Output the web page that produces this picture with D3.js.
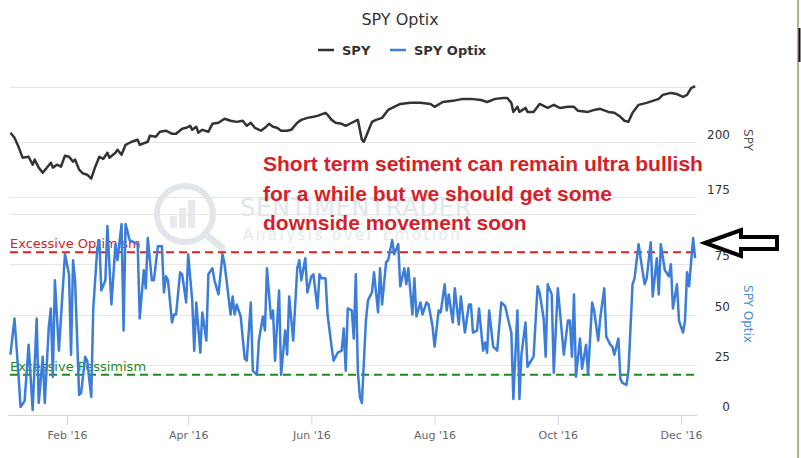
<!DOCTYPE html>
<html>
<head>
<meta charset="utf-8">
<script src="https://cdn.jsdelivr.net/npm/d3@7"></script>
<style>
  body { margin: 0; background: #fff; }
  svg { display: block; font-family: "DejaVu Sans", sans-serif; }
</style>
</head>
<body>
<div id="chart"></div>
<script>
var width = 801,
    height = 458;

// SPY close
var spyDates = ["01-04","01-06","01-08","01-10","01-13","01-15","01-16","01-18","01-20","01-24","01-25","01-27","01-29","01-31",
  "02-02","02-04","02-05","02-07","02-09","02-11","02-13","02-15","02-17","02-19","02-21","02-22","02-25","02-26","02-28",
  "03-01","03-04","03-07","03-08","03-12","03-13","03-16","03-18","03-21","03-24","03-26","03-29","03-31",
  "04-02","04-03","04-05","04-06","04-08","04-11","04-13","04-16","04-19","04-22","04-25","04-28","04-30",
  "05-02","05-04","05-07","05-09","05-11","05-13","05-15","05-17","05-20","05-22","05-25","05-27","05-30",
  "06-02","06-04","06-08","06-09","06-11","06-13","06-16","06-18","06-21","06-23","06-24","06-26","06-27","06-29",
  "07-01","07-03","07-06","07-09","07-12","07-15","07-20","07-25","07-30",
  "08-01","08-05","08-10","08-15","08-19","08-24","08-27","08-31",
  "09-04","09-06","09-08","09-09","09-11","09-12","09-15","09-16","09-19","09-22","09-26","09-29",
  "10-02","10-06","10-09","10-11","10-16","10-19","10-22","10-26","10-29",
  "11-01","11-03","11-05","11-07","11-10","11-14","11-17","11-20","11-22","11-26","11-29",
  "12-02","12-04","12-06","12-08"];
var spyValues = [204.1,201.8,197.7,192.8,193.2,189.6,191.9,188.3,186.0,190.5,188.3,189.6,188.7,193.7,
  193.2,191.0,191.9,187.4,185.6,185.1,183.3,188.7,193.2,192.3,195.0,192.8,195.0,196.4,194.1,
  198.6,200.0,200.9,198.6,200.0,202.7,202.3,204.5,205.0,203.6,203.6,205.9,206.3,
  207.2,205.4,206.8,204.1,205.4,204.5,208.1,208.6,210.4,209.5,209.0,209.5,207.2,
  208.6,206.3,205.0,206.3,208.1,206.8,206.3,205.0,205.0,205.4,208.6,209.9,210.8,
  211.3,211.7,213.1,212.2,209.9,208.6,208.1,207.2,208.6,209.5,209.9,200.9,200.0,204.5,
  209.0,209.9,210.8,214.4,215.8,217.1,217.6,217.6,217.1,
  215.8,218.0,218.5,219.4,219.4,218.9,218.0,219.4,
  219.8,219.8,217.6,213.5,215.8,213.5,215.3,213.5,213.5,217.1,215.3,216.7,
  215.3,215.8,215.8,214.0,213.5,214.4,214.9,213.5,213.1,
  211.3,209.5,209.0,213.1,216.7,217.6,218.5,219.4,221.2,222.1,221.6,
  220.3,221.2,224.3,225.2];

// SPY Optix
var optixDates = ["01-04","01-06","01-08","01-09","01-11","01-13","01-15","01-17","01-18","01-20","01-21","01-23","01-24","01-25","01-26","01-28","01-30","01-31",
  "02-02","02-03","02-04","02-05","02-07","02-08","02-10","02-11","02-13","02-14","02-16","02-17","02-18","02-20","02-21","02-23","02-25","02-26","02-28","02-29",
  "03-01","03-03","03-07","03-08","03-10","03-11","03-12","03-14","03-15","03-17","03-19","03-20","03-21","03-22","03-24","03-25","03-26","03-28","03-29","03-31",
  "04-01","04-03","04-04","04-05","04-07","04-08","04-10","04-11","04-13","04-14","04-16","04-18","04-19","04-20","04-22","04-23","04-24","04-25","04-27","04-29","04-30",
  "05-02","05-03","05-05","05-06","05-08","05-09","05-10","05-12","05-13","05-14","05-16","05-17","05-19","05-20","05-21","05-23","05-25","05-26","05-27","05-29","05-30",
  "06-01","06-02","06-04","06-05","06-06","06-08","06-09","06-11","06-12","06-14","06-16","06-17","06-18","06-19","06-21","06-22","06-23","06-24","06-25","06-26","06-28","06-29",
  "07-01","07-02","07-04","07-05","07-06","07-08","07-09","07-11","07-12","07-14","07-15","07-17","07-18","07-19","07-21","07-22","07-23","07-25","07-26","07-28","07-29","07-31",
  "08-01","08-03","08-04","08-06","08-07","08-08","08-10","08-11","08-13","08-14","08-16","08-18","08-19","08-20","08-22","08-23","08-25","08-26","08-27","08-28","08-30",
  "09-01","09-03","09-05","09-07","09-08","09-09","09-11","09-12","09-13","09-15","09-16","09-19","09-21","09-22","09-24","09-25","09-26","09-28","09-29",
  "10-01","10-04","10-06","10-07","10-08","10-09","10-10","10-12","10-13","10-15","10-16","10-18","10-19","10-21","10-22","10-24","10-25","10-27","10-28","10-29","10-31",
  "11-01","11-02","11-04","11-05","11-07","11-08","11-10","11-11","11-13","11-14","11-16","11-17","11-19","11-20","11-21","11-23","11-25","11-26","11-27","11-29","11-30",
  "12-02","12-03","12-04","12-05","12-07","12-08"];
var optixValues = [30,48,20,4,7,35,2.5,48,6,29,6,44,53,19,67,32,64,80,
  70,30,77,67,10,11,29,27,9,53,83,87,62,67,94,55,85,77,95,42,
  95,87,85,48,72,63,88,67,67,84,84,61,69,67,46,50,50,71,70,56,
  80,57,32,56,31,51,37,70,73,67,60,80,75,67,50,59,50,55,49,28,27,
  56,22,20,37,49,42,73,48,52,27,62,20,42,30,59,37,73,77,67,78,61,
  69,70,53,70,68,68,50,34,27,31,32,43,22,53,52,38,70,22,9,6,47,57,
  61,71,51,73,55,76,77,87,80,85,64,73,65,73,50,68,49,56,50,56,55,44,
  34,52,51,65,52,60,46,63,45,59,41,55,55,41,42,53,32,36,31,52,34,
  32,56,54,45,41,8,52,8,30,46,24,29,64,61,48,29,65,60,21,
  63,30,47,47,29,60,19,38,23,35,20,56,52,37,48,63,39,35,34,30,38,
  18,16,15,22,65,68,85,78,65,68,86,59,78,60,85,72,69,75,53,65,47,
  41,47,71,64,88,78];

var spyTicks = [175, 200, 225];
var spyTickLabels = ["175", "200", ""];
var optixTicks = [0, 25, 50, 75, 100];
var optixTickLabels = ["0", "25", "50", "75", ""];
var optimismLevel = 81,
    pessimismLevel = 20;
var monthTicks = ["2016-02-01","2016-04-01","2016-06-01","2016-08-01","2016-10-01","2016-12-01"];
var noteLines = ["Short term setiment can remain ultra bullish",
                 "for a while but we should get some",
                 "downside movement soon"];

var parseDay = d3.timeParse("%Y-%m-%d");
var spy = spyDates.map(function(d, i) { return {date: parseDay("2016-" + d), value: spyValues[i]}; });
var optix = optixDates.map(function(d, i) { return {date: parseDay("2016-" + d), value: optixValues[i]}; });

var plotLeft = 10, plotRight = 697;

var x = d3.scaleTime()
    .domain([parseDay("2016-02-01"), parseDay("2016-12-01")])
    .range([67, 681]);

var ySpy = d3.scaleLinear().domain([175, 225]).range([197, 86.5]);
var yOpt = d3.scaleLinear().domain([0, 100]).range([415, 214]);

var svg = d3.select("#chart").append("svg")
    .attr("width", width)
    .attr("height", height);

// right border of the screenshot
svg.append("line").attr("x1", 798).attr("x2", 798).attr("y1", 0).attr("y2", height)
    .attr("stroke", "#b08a6c").attr("stroke-width", 1.5);
svg.append("line").attr("x1", 799.5).attr("x2", 799.5).attr("y1", 28).attr("y2", 62)
    .attr("stroke", "#111").attr("stroke-width", 2);

// watermark
var wm = svg.append("g").attr("opacity", 0.55);
wm.append("circle").attr("cx", 185).attr("cy", 214).attr("r", 28)
    .attr("fill", "none").attr("stroke", "#c9d2dc").attr("stroke-width", 6);
wm.selectAll("rect.wmbar").data([12, 20, 28]).enter().append("rect")
    .attr("x", function(d, i) { return 170 + i * 9; })
    .attr("y", function(d) { return 228 - d; })
    .attr("width", 7).attr("height", function(d) { return d; })
    .attr("fill", "#d3d9e0");
wm.append("line").attr("x1", 205).attr("y1", 234).attr("x2", 222).attr("y2", 248)
    .attr("stroke", "#c9d2dc").attr("stroke-width", 7).attr("stroke-linecap", "round");
wm.append("text").attr("x", 240).attr("y", 216)
    .attr("font-size", 24).attr("fill", "#c5d3e2").attr("letter-spacing", 0.8)
    .text("SENTIMENTRADER");
wm.append("text").attr("x", 243).attr("y", 240)
    .attr("font-size", 15).attr("fill", "#d2d8de").attr("letter-spacing", 2.5)
    .text("Analysis over Emotion");

// title
svg.append("text").attr("x", 400).attr("y", 25)
    .attr("text-anchor", "middle").attr("font-size", 16).attr("fill", "#333")
    .text("SPY Optix");

// legend
var legend = svg.append("g").attr("font-size", 13).attr("font-weight", "bold").attr("fill", "#333");
[{name: "SPY", color: "#333", x: 318}, {name: "SPY Optix", color: "#3b7dd8", x: 390}].forEach(function(s) {
  legend.append("line").attr("x1", s.x).attr("x2", s.x + 16).attr("y1", 50).attr("y2", 50)
      .attr("stroke", s.color).attr("stroke-width", 2.5);
  legend.append("text").attr("x", s.x + 24).attr("y", 55).text(s.name);
});

// grid lines
svg.append("g").selectAll("line").data(spyTicks).enter().append("line")
    .attr("x1", plotLeft).attr("x2", plotRight)
    .attr("y1", function(d) { return Math.round(ySpy(d)) + 0.5; })
    .attr("y2", function(d) { return Math.round(ySpy(d)) + 0.5; })
    .attr("stroke", "#e6e6e6");
svg.append("g").selectAll("line").data(optixTicks.slice(1)).enter().append("line")
    .attr("x1", plotLeft).attr("x2", plotRight)
    .attr("y1", function(d) { return Math.round(yOpt(d)) + 0.5; })
    .attr("y2", function(d) { return Math.round(yOpt(d)) + 0.5; })
    .attr("stroke", "#e6e6e6");

// x axis
var xAxis = svg.append("g")
    .attr("transform", "translate(0," + yOpt(0) + ")")
    .call(d3.axisBottom(x)
      .tickValues(monthTicks.map(parseDay))
      .tickFormat(d3.timeFormat("%b '%y"))
      .tickSize(10).tickPadding(6));
xAxis.select(".domain").attr("d", "M" + (plotLeft - 2) + ",0.5H" + plotRight).attr("stroke", "#ccd6eb");
xAxis.selectAll(".tick line").attr("stroke", "#ccd6eb");
xAxis.selectAll(".tick text").attr("font-size", 11).attr("fill", "#666").attr("font-family", "DejaVu Sans");

// right axis labels
svg.append("g").selectAll("text").data(spyTicks).enter().append("text")
    .attr("x", 730).attr("y", function(d) { return ySpy(d) - 3; })
    .attr("text-anchor", "end").attr("font-size", 12).attr("fill", "#333")
    .text(function(d, i) { return spyTickLabels[i]; });
svg.append("g").selectAll("text").data(optixTicks).enter().append("text")
    .attr("x", 730).attr("y", function(d) { return yOpt(d) - 4; })
    .attr("text-anchor", "end").attr("font-size", 12).attr("fill", "#333")
    .text(function(d, i) { return optixTickLabels[i]; });

svg.append("text").attr("transform", "translate(744,140) rotate(90)")
    .attr("text-anchor", "middle").attr("font-size", 12).attr("fill", "#555")
    .text("SPY");
svg.append("text").attr("transform", "translate(744,314) rotate(90)")
    .attr("text-anchor", "middle").attr("font-size", 12).attr("fill", "#4a8fd8")
    .text("SPY Optix");

// threshold lines
svg.append("line").attr("x1", plotLeft).attr("x2", plotRight)
    .attr("y1", yOpt(optimismLevel)).attr("y2", yOpt(optimismLevel))
    .attr("stroke", "#d42424").attr("stroke-width", 2).attr("stroke-dasharray", "8,5");
svg.append("line").attr("x1", plotLeft).attr("x2", plotRight)
    .attr("y1", yOpt(pessimismLevel)).attr("y2", yOpt(pessimismLevel))
    .attr("stroke", "#1e8a1e").attr("stroke-width", 2).attr("stroke-dasharray", "8,5");
svg.append("text").attr("x", plotLeft).attr("y", yOpt(optimismLevel) - 4)
    .attr("font-size", 13).attr("fill", "#d42424").text("Excessive Optimism");
svg.append("text").attr("x", plotLeft).attr("y", yOpt(pessimismLevel) - 4)
    .attr("font-size", 13).attr("fill", "#1e8a1e").text("Excessive Pessimism");

// series
var spyLine = d3.line().x(function(d) { return x(d.date); }).y(function(d) { return ySpy(d.value); });
var optLine = d3.line().x(function(d) { return x(d.date); }).y(function(d) { return yOpt(d.value); });

svg.append("path").datum(spy)
    .attr("d", spyLine).attr("fill", "none")
    .attr("stroke", "#333").attr("stroke-width", 2.5).attr("stroke-linejoin", "round");
svg.append("path").datum(optix)
    .attr("d", optLine).attr("fill", "none")
    .attr("stroke", "#3b7dd8").attr("stroke-width", 2.5).attr("stroke-linejoin", "round");

// annotation
svg.append("g").selectAll("text").data(noteLines).enter().append("text")
    .attr("x", 263).attr("y", function(d, i) { return 171 + i * 29.5; })
    .attr("font-family", "Liberation Sans, Arial, sans-serif")
    .attr("font-weight", "bold").attr("font-size", 21).attr("fill", "#d61f29")
    .text(function(d) { return d; });

// arrow
svg.append("path")
    .attr("d", "M705,243 L741,230 L741,237 L777,237 L777,249 L741,249 L741,256 Z")
    .attr("fill", "#fff").attr("stroke", "#000").attr("stroke-width", 4).attr("stroke-linejoin", "miter");
</script>
</body>
</html>
